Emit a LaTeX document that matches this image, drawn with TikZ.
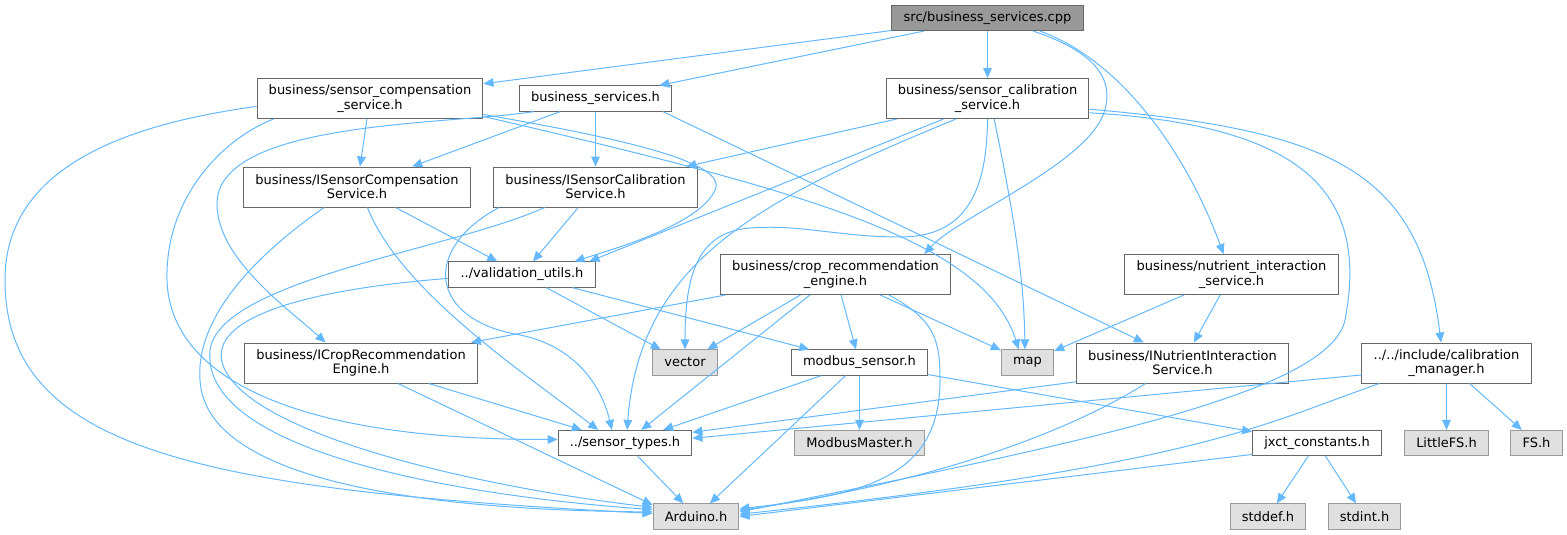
\documentclass[tikz,border=0pt]{standalone}
\usepackage{fontspec}
\setmainfont{DejaVu Sans}
\usetikzlibrary{arrows.meta}
\definecolor{edgeblue}{HTML}{63B8FF}
\definecolor{boxline}{HTML}{666666}
\definecolor{sysline}{HTML}{999999}
\definecolor{sysfill}{HTML}{E0E0E0}
\definecolor{rootfill}{HTML}{999999}
\tikzset{
    file/.style={draw=boxline, fill=white, line width=0.75pt, rectangle, inner xsep=8.8pt, inner ysep=3pt, minimum height=18.9pt, font=\fontsize{9.75pt}{10.7pt}\selectfont},
    twoline/.style={file, align=center, minimum height=30pt},
    sysfile/.style={file, draw=sysline, fill=sysfill},
    rootfile/.style={file, fill=rootfill},
    inc/.style={draw=edgeblue, line width=0.75pt, -{Triangle[length=7.5pt,width=6.5pt]}}
}

\begin{document}
\begin{tikzpicture}[x=0.75pt,y=-0.75pt]
    \useasboundingbox (0,0) rectangle (1567,535);
    \node[rootfile] (cpp) at (987.5,18) {src/business\_services.cpp};
    \node[twoline] (compsvc) at (370,98.5) {business/sensor\_compensation\\\_service.h};
    \node[file] (bsh) at (595.5,98.5) {business\_services.h};
    \node[twoline] (calsvc) at (987.5,98.5) {business/sensor\_calibration\\\_service.h};
    \node[twoline] (icomp) at (357,187) {business/ISensorCompensation\\Service.h};
    \node[twoline] (ical) at (595.5,187) {business/ISensorCalibration\\Service.h};
    \node[file] (valid) at (522,274.5) {../validation\_utils.h};
    \node[twoline] (cropeng) at (835.5,274.5) {business/crop\_recommendation\\\_engine.h};
    \node[twoline] (nutrsvc) at (1231.5,274.5) {business/nutrient\_interaction\\\_service.h};
    \node[twoline] (icrop) at (361,363) {business/ICropRecommendation\\Engine.h};
    \node[sysfile] (vec) at (685,362.5) {vector};
    \node[file] (modbus) at (859.5,362.5) {modbus\_sensor.h};
    \node[sysfile] (maph) at (1027.5,362.5) {map};
    \node[twoline] (inutr) at (1182.5,363) {business/INutrientInteraction\\Service.h};
    \node[twoline] (calmgr) at (1446.5,363) {../../include/calibration\\\_manager.h};
    \node[file] (stypes) at (625,443) {../sensor\_types.h};
    \node[sysfile] (mmaster) at (859.5,443) {ModbusMaster.h};
    \node[file] (jxct) at (1317,443) {jxct\_constants.h};
    \node[sysfile] (lfs) at (1446.5,443) {LittleFS.h};
    \node[sysfile] (fsh) at (1536.5,443) {FS.h};
    \node[sysfile] (ard) at (696,516.5) {Arduino.h};
    \node[sysfile] (stddef) at (1268,516.5) {stddef.h};
    \node[sysfile] (stdint) at (1364.5,516.5) {stdint.h};

    \draw[inc] (cpp) -- (compsvc);
    \draw[inc] (cpp) -- (bsh);
    \draw[inc] (cpp) -- (calsvc);
    \draw[inc] (cpp.-16) .. controls (1090,50) and (1112,75) .. (1106,105) .. controls (1098,160) and (960,215) .. (cropeng.13);
    \draw[inc] (cpp.-14) .. controls (1120,60) and (1185,150) .. (nutrsvc.111);

    \draw[inc] (compsvc) -- (icomp);
    \draw[inc] (compsvc.184) .. controls (120,125) and (5,170) .. (5,280) .. controls (5,450) and (200,490) .. (ard.176);
    \draw[inc] (compsvc.192) .. controls (220,140) and (165,200) .. (167,280) .. controls (170,380) and (300,440) .. (stypes.177);
    \draw[inc] (compsvc.-8) .. controls (600,135) and (730,160) .. (715,190) .. controls (700,225) and (610,250) .. (valid.14);
    \draw[inc] (compsvc.-9) .. controls (800,190) and (985,240) .. (maph.124);

    \draw[inc] (bsh) -- (icomp);
    \draw[inc] (bsh) -- (ical);
    \draw[inc] (bsh.192) .. controls (450,125) and (215,120) .. (217,205) .. controls (218,260) and (290,310) .. (icrop.150);
    \draw[inc] (bsh.-11) -- (inutr.152);

    \draw[inc] (calsvc) -- (ical);
    \draw[inc] (calsvc.205) -- (valid.11);
    \draw[inc] (calsvc.213) .. controls (760,200) and (640,260) .. (stypes.81);
    \draw[inc] (calsvc.south) .. controls (987,200) and (960,237) .. (900,237) .. controls (840,237) and (800,224) .. (750,228) .. controls (700,232) and (685,270) .. (vec.north);
    \draw[inc] (calsvc.-72) .. controls (1015,220) and (1024,280) .. (maph.101);
    \draw[inc] (calsvc.-6) .. controls (1330,130) and (1420,170) .. (calmgr.105);
    \draw[inc] (calsvc.-8) .. controls (1300,125) and (1370,190) .. (1345,320) .. controls (1330,390) and (1100,440) .. (ard.6);

    \draw[inc] (icomp) -- (valid);
    \draw[inc] (icomp.-63) .. controls (400,290) and (520,370) .. (stypes.154);
    \draw[inc] (icomp.212) .. controls (270,245) and (195,310) .. (200,380) .. controls (205,480) and (420,510) .. (ard.174);

    \draw[inc] (ical) -- (valid);
    \draw[inc] (ical.192) .. controls (420,250) and (430,320) .. (520,335) .. controls (570,345) and (600,380) .. (stypes.135);
    \draw[inc] (ical.202) .. controls (450,250) and (220,280) .. (210,350) .. controls (200,450) and (450,495) .. (ard.171);

    \draw[inc] (valid) -- (vec);
    \draw[inc] (valid) -- (modbus);
    \draw[inc] (valid.183) .. controls (300,290) and (200,320) .. (225,370) .. controls (260,440) and (500,490) .. (ard.168);

    \draw[inc] (cropeng) -- (icrop);
    \draw[inc] (cropeng) -- (vec);
    \draw[inc] (cropeng) -- (stypes);
    \draw[inc] (cropeng) -- (modbus);
    \draw[inc] (cropeng) -- (maph);
    \draw[inc] (cropeng.-21) .. controls (935,320) and (940,340) .. (940,380) .. controls (940,480) and (860,495) .. (ard.10);

    \draw[inc] (nutrsvc) -- (maph);
    \draw[inc] (nutrsvc) -- (inutr);

    \draw[inc] (icrop) -- (stypes);
    \draw[inc] (icrop.-29) -- (ard.165);

    \draw[inc] (modbus) -- (stypes);
    \draw[inc] (modbus) -- (ard);
    \draw[inc] (modbus) -- (mmaster);
    \draw[inc] (modbus) -- (jxct);

    \draw[inc] (inutr.190) -- (stypes.9);
    \draw[inc] (inutr.209) .. controls (1080,425) and (950,480) .. (ard.8);

    \draw[inc] (calmgr.188) -- (stypes.4);
    \draw[inc] (calmgr.197) .. controls (1260,425) and (1200,465) .. (ard.3);
    \draw[inc] (calmgr) -- (lfs);
    \draw[inc] (calmgr) -- (fsh);

    \draw[inc] (stypes) -- (ard);
    \draw[inc] (jxct.190) -- (ard.0);
    \draw[inc] (jxct) -- (stddef);
    \draw[inc] (jxct) -- (stdint);
\end{tikzpicture}
\end{document}
